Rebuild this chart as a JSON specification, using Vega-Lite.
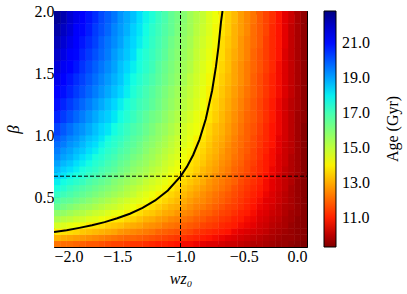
{
"$schema": "https://vega.github.io/schema/vega-lite/v6.json",
"width": 253, "height": 236,
"autosize": {"type": "none"},
"padding": {"left": 54, "top": 11, "right": 100, "bottom": 47},
"background": "white",
"config": {
 "view": {"stroke": null},
 "font": "Liberation Serif",
 "axis": {"zindex": 1, "grid": false, "domainColor": "black", "tickColor": "black", "labelColor": "black", "titleColor": "black", "labelFont": "Liberation Serif", "titleFont": "Liberation Serif", "labelFontSize": 16, "titleFontSize": 16, "titleFontWeight": "normal", "domainWidth": 1, "tickWidth": 1}
},
"datasets": {
 "fine": [
{"b":0.125,"w":-0.025,"t":9.3},{"b":0.125,"w":-0.075,"t":9.4},{"b":0.125,"w":-0.125,"t":9.5},{"b":0.125,"w":-0.175,"t":9.6},{"b":0.125,"w":-0.225,"t":9.6},{"b":0.125,"w":-0.275,"t":9.7},{"b":0.125,"w":-0.325,"t":9.8},{"b":0.125,"w":-0.375,"t":9.9},{"b":0.125,"w":-0.425,"t":9.9},{"b":0.125,"w":-0.475,"t":10.0},{"b":0.125,"w":-0.525,"t":10.1},{"b":0.125,"w":-0.575,"t":10.2},{"b":0.125,"w":-0.625,"t":10.2},{"b":0.125,"w":-0.675,"t":10.3},{"b":0.125,"w":-0.725,"t":10.4},{"b":0.125,"w":-0.775,"t":10.4},{"b":0.125,"w":-0.825,"t":10.5},{"b":0.125,"w":-0.875,"t":10.6},{"b":0.125,"w":-0.925,"t":10.7},{"b":0.125,"w":-0.975,"t":10.7},{"b":0.125,"w":-1.025,"t":10.8},{"b":0.125,"w":-1.075,"t":10.9},{"b":0.125,"w":-1.125,"t":11.0},{"b":0.125,"w":-1.175,"t":11.0},{"b":0.125,"w":-1.225,"t":11.1},{"b":0.125,"w":-1.275,"t":11.2},{"b":0.125,"w":-1.325,"t":11.3},{"b":0.125,"w":-1.375,"t":11.3},{"b":0.125,"w":-1.425,"t":11.4},{"b":0.125,"w":-1.475,"t":11.5},{"b":0.125,"w":-1.525,"t":11.5},{"b":0.125,"w":-1.575,"t":11.6},{"b":0.125,"w":-1.625,"t":11.7},{"b":0.125,"w":-1.675,"t":11.8},{"b":0.125,"w":-1.725,"t":11.8},{"b":0.125,"w":-1.775,"t":11.9},{"b":0.125,"w":-1.825,"t":12.0},{"b":0.125,"w":-1.875,"t":12.1},{"b":0.125,"w":-1.925,"t":12.1},{"b":0.125,"w":-1.975,"t":12.2},
{"b":0.175,"w":-0.025,"t":9.4},{"b":0.175,"w":-0.075,"t":9.5},{"b":0.175,"w":-0.125,"t":9.6},{"b":0.175,"w":-0.175,"t":9.6},{"b":0.175,"w":-0.225,"t":9.7},{"b":0.175,"w":-0.275,"t":9.8},{"b":0.175,"w":-0.325,"t":9.9},{"b":0.175,"w":-0.375,"t":10.0},{"b":0.175,"w":-0.425,"t":10.1},{"b":0.175,"w":-0.475,"t":10.2},{"b":0.175,"w":-0.525,"t":10.3},{"b":0.175,"w":-0.575,"t":10.4},{"b":0.175,"w":-0.625,"t":10.5},{"b":0.175,"w":-0.675,"t":10.6},{"b":0.175,"w":-0.725,"t":10.7},{"b":0.175,"w":-0.775,"t":10.8},{"b":0.175,"w":-0.825,"t":10.9},{"b":0.175,"w":-0.875,"t":11.0},{"b":0.175,"w":-0.925,"t":11.1},{"b":0.175,"w":-0.975,"t":11.2},{"b":0.175,"w":-1.025,"t":11.3},{"b":0.175,"w":-1.075,"t":11.4},{"b":0.175,"w":-1.125,"t":11.5},{"b":0.175,"w":-1.175,"t":11.6},{"b":0.175,"w":-1.225,"t":11.7},{"b":0.175,"w":-1.275,"t":11.8},{"b":0.175,"w":-1.325,"t":11.9},{"b":0.175,"w":-1.375,"t":12.0},{"b":0.175,"w":-1.425,"t":12.0},{"b":0.175,"w":-1.475,"t":12.1},{"b":0.175,"w":-1.525,"t":12.2},{"b":0.175,"w":-1.575,"t":12.3},{"b":0.175,"w":-1.625,"t":12.4},{"b":0.175,"w":-1.675,"t":12.5},{"b":0.175,"w":-1.725,"t":12.6},{"b":0.175,"w":-1.775,"t":12.7},{"b":0.175,"w":-1.825,"t":12.8},{"b":0.175,"w":-1.875,"t":12.9},{"b":0.175,"w":-1.925,"t":13.0},{"b":0.175,"w":-1.975,"t":13.1},
{"b":0.225,"w":-0.025,"t":9.4},{"b":0.225,"w":-0.075,"t":9.5},{"b":0.225,"w":-0.125,"t":9.6},{"b":0.225,"w":-0.175,"t":9.7},{"b":0.225,"w":-0.225,"t":9.8},{"b":0.225,"w":-0.275,"t":9.9},{"b":0.225,"w":-0.325,"t":10.1},{"b":0.225,"w":-0.375,"t":10.2},{"b":0.225,"w":-0.425,"t":10.3},{"b":0.225,"w":-0.475,"t":10.4},{"b":0.225,"w":-0.525,"t":10.5},{"b":0.225,"w":-0.575,"t":10.6},{"b":0.225,"w":-0.625,"t":10.8},{"b":0.225,"w":-0.675,"t":10.9},{"b":0.225,"w":-0.725,"t":11.0},{"b":0.225,"w":-0.775,"t":11.1},{"b":0.225,"w":-0.825,"t":11.2},{"b":0.225,"w":-0.875,"t":11.3},{"b":0.225,"w":-0.925,"t":11.5},{"b":0.225,"w":-0.975,"t":11.6},{"b":0.225,"w":-1.025,"t":11.7},{"b":0.225,"w":-1.075,"t":11.8},{"b":0.225,"w":-1.125,"t":11.9},{"b":0.225,"w":-1.175,"t":12.0},{"b":0.225,"w":-1.225,"t":12.2},{"b":0.225,"w":-1.275,"t":12.3},{"b":0.225,"w":-1.325,"t":12.4},{"b":0.225,"w":-1.375,"t":12.5},{"b":0.225,"w":-1.425,"t":12.6},{"b":0.225,"w":-1.475,"t":12.7},{"b":0.225,"w":-1.525,"t":12.9},{"b":0.225,"w":-1.575,"t":13.0},{"b":0.225,"w":-1.625,"t":13.1},{"b":0.225,"w":-1.675,"t":13.2},{"b":0.225,"w":-1.725,"t":13.3},{"b":0.225,"w":-1.775,"t":13.4},{"b":0.225,"w":-1.825,"t":13.6},{"b":0.225,"w":-1.875,"t":13.7},{"b":0.225,"w":-1.925,"t":13.8},{"b":0.225,"w":-1.975,"t":13.9},
{"b":0.275,"w":-0.025,"t":9.4},{"b":0.275,"w":-0.075,"t":9.5},{"b":0.275,"w":-0.125,"t":9.6},{"b":0.275,"w":-0.175,"t":9.8},{"b":0.275,"w":-0.225,"t":9.9},{"b":0.275,"w":-0.275,"t":10.0},{"b":0.275,"w":-0.325,"t":10.2},{"b":0.275,"w":-0.375,"t":10.3},{"b":0.275,"w":-0.425,"t":10.5},{"b":0.275,"w":-0.475,"t":10.6},{"b":0.275,"w":-0.525,"t":10.7},{"b":0.275,"w":-0.575,"t":10.9},{"b":0.275,"w":-0.625,"t":11.0},{"b":0.275,"w":-0.675,"t":11.1},{"b":0.275,"w":-0.725,"t":11.3},{"b":0.275,"w":-0.775,"t":11.4},{"b":0.275,"w":-0.825,"t":11.5},{"b":0.275,"w":-0.875,"t":11.7},{"b":0.275,"w":-0.925,"t":11.8},{"b":0.275,"w":-0.975,"t":11.9},{"b":0.275,"w":-1.025,"t":12.1},{"b":0.275,"w":-1.075,"t":12.2},{"b":0.275,"w":-1.125,"t":12.3},{"b":0.275,"w":-1.175,"t":12.5},{"b":0.275,"w":-1.225,"t":12.6},{"b":0.275,"w":-1.275,"t":12.7},{"b":0.275,"w":-1.325,"t":12.9},{"b":0.275,"w":-1.375,"t":13.0},{"b":0.275,"w":-1.425,"t":13.1},{"b":0.275,"w":-1.475,"t":13.3},{"b":0.275,"w":-1.525,"t":13.4},{"b":0.275,"w":-1.575,"t":13.5},{"b":0.275,"w":-1.625,"t":13.7},{"b":0.275,"w":-1.675,"t":13.8},{"b":0.275,"w":-1.725,"t":13.9},{"b":0.275,"w":-1.775,"t":14.1},{"b":0.275,"w":-1.825,"t":14.2},{"b":0.275,"w":-1.875,"t":14.3},{"b":0.275,"w":-1.925,"t":14.5},{"b":0.275,"w":-1.975,"t":14.6},
{"b":0.325,"w":-0.025,"t":9.4},{"b":0.325,"w":-0.075,"t":9.5},{"b":0.325,"w":-0.125,"t":9.7},{"b":0.325,"w":-0.175,"t":9.8},{"b":0.325,"w":-0.225,"t":10.0},{"b":0.325,"w":-0.275,"t":10.1},{"b":0.325,"w":-0.325,"t":10.3},{"b":0.325,"w":-0.375,"t":10.4},{"b":0.325,"w":-0.425,"t":10.6},{"b":0.325,"w":-0.475,"t":10.7},{"b":0.325,"w":-0.525,"t":10.9},{"b":0.325,"w":-0.575,"t":11.0},{"b":0.325,"w":-0.625,"t":11.2},{"b":0.325,"w":-0.675,"t":11.3},{"b":0.325,"w":-0.725,"t":11.5},{"b":0.325,"w":-0.775,"t":11.6},{"b":0.325,"w":-0.825,"t":11.8},{"b":0.325,"w":-0.875,"t":11.9},{"b":0.325,"w":-0.925,"t":12.1},{"b":0.325,"w":-0.975,"t":12.2},{"b":0.325,"w":-1.025,"t":12.4},{"b":0.325,"w":-1.075,"t":12.5},{"b":0.325,"w":-1.125,"t":12.7},{"b":0.325,"w":-1.175,"t":12.8},{"b":0.325,"w":-1.225,"t":13.0},{"b":0.325,"w":-1.275,"t":13.1},{"b":0.325,"w":-1.325,"t":13.3},{"b":0.325,"w":-1.375,"t":13.5},{"b":0.325,"w":-1.425,"t":13.6},{"b":0.325,"w":-1.475,"t":13.8},{"b":0.325,"w":-1.525,"t":13.9},{"b":0.325,"w":-1.575,"t":14.1},{"b":0.325,"w":-1.625,"t":14.2},{"b":0.325,"w":-1.675,"t":14.4},{"b":0.325,"w":-1.725,"t":14.5},{"b":0.325,"w":-1.775,"t":14.7},{"b":0.325,"w":-1.825,"t":14.8},{"b":0.325,"w":-1.875,"t":15.0},{"b":0.325,"w":-1.925,"t":15.1},{"b":0.325,"w":-1.975,"t":15.3},
{"b":0.375,"w":-0.025,"t":9.4},{"b":0.375,"w":-0.075,"t":9.6},{"b":0.375,"w":-0.125,"t":9.7},{"b":0.375,"w":-0.175,"t":9.9},{"b":0.375,"w":-0.225,"t":10.1},{"b":0.375,"w":-0.275,"t":10.2},{"b":0.375,"w":-0.325,"t":10.4},{"b":0.375,"w":-0.375,"t":10.5},{"b":0.375,"w":-0.425,"t":10.7},{"b":0.375,"w":-0.475,"t":10.9},{"b":0.375,"w":-0.525,"t":11.0},{"b":0.375,"w":-0.575,"t":11.2},{"b":0.375,"w":-0.625,"t":11.4},{"b":0.375,"w":-0.675,"t":11.5},{"b":0.375,"w":-0.725,"t":11.7},{"b":0.375,"w":-0.775,"t":11.9},{"b":0.375,"w":-0.825,"t":12.0},{"b":0.375,"w":-0.875,"t":12.2},{"b":0.375,"w":-0.925,"t":12.4},{"b":0.375,"w":-0.975,"t":12.5},{"b":0.375,"w":-1.025,"t":12.7},{"b":0.375,"w":-1.075,"t":12.9},{"b":0.375,"w":-1.125,"t":13.0},{"b":0.375,"w":-1.175,"t":13.2},{"b":0.375,"w":-1.225,"t":13.4},{"b":0.375,"w":-1.275,"t":13.5},{"b":0.375,"w":-1.325,"t":13.7},{"b":0.375,"w":-1.375,"t":13.9},{"b":0.375,"w":-1.425,"t":14.0},{"b":0.375,"w":-1.475,"t":14.2},{"b":0.375,"w":-1.525,"t":14.3},{"b":0.375,"w":-1.575,"t":14.5},{"b":0.375,"w":-1.625,"t":14.7},{"b":0.375,"w":-1.675,"t":14.8},{"b":0.375,"w":-1.725,"t":15.0},{"b":0.375,"w":-1.775,"t":15.2},{"b":0.375,"w":-1.825,"t":15.3},{"b":0.375,"w":-1.875,"t":15.5},{"b":0.375,"w":-1.925,"t":15.7},{"b":0.375,"w":-1.975,"t":15.8},
{"b":0.425,"w":-0.025,"t":9.4},{"b":0.425,"w":-0.075,"t":9.6},{"b":0.425,"w":-0.125,"t":9.8},{"b":0.425,"w":-0.175,"t":9.9},{"b":0.425,"w":-0.225,"t":10.1},{"b":0.425,"w":-0.275,"t":10.3},{"b":0.425,"w":-0.325,"t":10.5},{"b":0.425,"w":-0.375,"t":10.6},{"b":0.425,"w":-0.425,"t":10.8},{"b":0.425,"w":-0.475,"t":11.0},{"b":0.425,"w":-0.525,"t":11.2},{"b":0.425,"w":-0.575,"t":11.4},{"b":0.425,"w":-0.625,"t":11.5},{"b":0.425,"w":-0.675,"t":11.7},{"b":0.425,"w":-0.725,"t":11.9},{"b":0.425,"w":-0.775,"t":12.1},{"b":0.425,"w":-0.825,"t":12.3},{"b":0.425,"w":-0.875,"t":12.4},{"b":0.425,"w":-0.925,"t":12.6},{"b":0.425,"w":-0.975,"t":12.8},{"b":0.425,"w":-1.025,"t":13.0},{"b":0.425,"w":-1.075,"t":13.1},{"b":0.425,"w":-1.125,"t":13.3},{"b":0.425,"w":-1.175,"t":13.5},{"b":0.425,"w":-1.225,"t":13.7},{"b":0.425,"w":-1.275,"t":13.9},{"b":0.425,"w":-1.325,"t":14.0},{"b":0.425,"w":-1.375,"t":14.2},{"b":0.425,"w":-1.425,"t":14.4},{"b":0.425,"w":-1.475,"t":14.6},{"b":0.425,"w":-1.525,"t":14.8},{"b":0.425,"w":-1.575,"t":14.9},{"b":0.425,"w":-1.625,"t":15.1},{"b":0.425,"w":-1.675,"t":15.3},{"b":0.425,"w":-1.725,"t":15.5},{"b":0.425,"w":-1.775,"t":15.6},{"b":0.425,"w":-1.825,"t":15.8},{"b":0.425,"w":-1.875,"t":16.0},{"b":0.425,"w":-1.925,"t":16.2},{"b":0.425,"w":-1.975,"t":16.4},
{"b":0.475,"w":-0.025,"t":9.4},{"b":0.475,"w":-0.075,"t":9.6},{"b":0.475,"w":-0.125,"t":9.8},{"b":0.475,"w":-0.175,"t":10.0},{"b":0.475,"w":-0.225,"t":10.2},{"b":0.475,"w":-0.275,"t":10.4},{"b":0.475,"w":-0.325,"t":10.5},{"b":0.475,"w":-0.375,"t":10.7},{"b":0.475,"w":-0.425,"t":10.9},{"b":0.475,"w":-0.475,"t":11.1},{"b":0.475,"w":-0.525,"t":11.3},{"b":0.475,"w":-0.575,"t":11.5},{"b":0.475,"w":-0.625,"t":11.7},{"b":0.475,"w":-0.675,"t":11.9},{"b":0.475,"w":-0.725,"t":12.1},{"b":0.475,"w":-0.775,"t":12.3},{"b":0.475,"w":-0.825,"t":12.5},{"b":0.475,"w":-0.875,"t":12.6},{"b":0.475,"w":-0.925,"t":12.8},{"b":0.475,"w":-0.975,"t":13.0},{"b":0.475,"w":-1.025,"t":13.2},{"b":0.475,"w":-1.075,"t":13.4},{"b":0.475,"w":-1.125,"t":13.6},{"b":0.475,"w":-1.175,"t":13.8},{"b":0.475,"w":-1.225,"t":14.0},{"b":0.475,"w":-1.275,"t":14.2},{"b":0.475,"w":-1.325,"t":14.4},{"b":0.475,"w":-1.375,"t":14.5},{"b":0.475,"w":-1.425,"t":14.7},{"b":0.475,"w":-1.475,"t":14.9},{"b":0.475,"w":-1.525,"t":15.1},{"b":0.475,"w":-1.575,"t":15.3},{"b":0.475,"w":-1.625,"t":15.5},{"b":0.475,"w":-1.675,"t":15.7},{"b":0.475,"w":-1.725,"t":15.9},{"b":0.475,"w":-1.775,"t":16.1},{"b":0.475,"w":-1.825,"t":16.3},{"b":0.475,"w":-1.875,"t":16.5},{"b":0.475,"w":-1.925,"t":16.6},{"b":0.475,"w":-1.975,"t":16.8},
{"b":0.525,"w":-0.025,"t":9.4},{"b":0.525,"w":-0.075,"t":9.6},{"b":0.525,"w":-0.125,"t":9.8},{"b":0.525,"w":-0.175,"t":10.0},{"b":0.525,"w":-0.225,"t":10.2},{"b":0.525,"w":-0.275,"t":10.4},{"b":0.525,"w":-0.325,"t":10.6},{"b":0.525,"w":-0.375,"t":10.8},{"b":0.525,"w":-0.425,"t":11.0},{"b":0.525,"w":-0.475,"t":11.2},{"b":0.525,"w":-0.525,"t":11.4},{"b":0.525,"w":-0.575,"t":11.6},{"b":0.525,"w":-0.625,"t":11.8},{"b":0.525,"w":-0.675,"t":12.0},{"b":0.525,"w":-0.725,"t":12.2},{"b":0.525,"w":-0.775,"t":12.4},{"b":0.525,"w":-0.825,"t":12.6},{"b":0.525,"w":-0.875,"t":12.8},{"b":0.525,"w":-0.925,"t":13.0},{"b":0.525,"w":-0.975,"t":13.2},{"b":0.525,"w":-1.025,"t":13.4},{"b":0.525,"w":-1.075,"t":13.6},{"b":0.525,"w":-1.125,"t":13.8},{"b":0.525,"w":-1.175,"t":14.0},{"b":0.525,"w":-1.225,"t":14.2},{"b":0.525,"w":-1.275,"t":14.4},{"b":0.525,"w":-1.325,"t":14.6},{"b":0.525,"w":-1.375,"t":14.9},{"b":0.525,"w":-1.425,"t":15.1},{"b":0.525,"w":-1.475,"t":15.3},{"b":0.525,"w":-1.525,"t":15.5},{"b":0.525,"w":-1.575,"t":15.7},{"b":0.525,"w":-1.625,"t":15.9},{"b":0.525,"w":-1.675,"t":16.1},{"b":0.525,"w":-1.725,"t":16.3},{"b":0.525,"w":-1.775,"t":16.5},{"b":0.525,"w":-1.825,"t":16.7},{"b":0.525,"w":-1.875,"t":16.9},{"b":0.525,"w":-1.925,"t":17.1},{"b":0.525,"w":-1.975,"t":17.3},
{"b":0.575,"w":-0.025,"t":9.4},{"b":0.575,"w":-0.075,"t":9.6},{"b":0.575,"w":-0.125,"t":9.8},{"b":0.575,"w":-0.175,"t":10.1},{"b":0.575,"w":-0.225,"t":10.3},{"b":0.575,"w":-0.275,"t":10.5},{"b":0.575,"w":-0.325,"t":10.7},{"b":0.575,"w":-0.375,"t":10.9},{"b":0.575,"w":-0.425,"t":11.1},{"b":0.575,"w":-0.475,"t":11.3},{"b":0.575,"w":-0.525,"t":11.5},{"b":0.575,"w":-0.575,"t":11.7},{"b":0.575,"w":-0.625,"t":12.0},{"b":0.575,"w":-0.675,"t":12.2},{"b":0.575,"w":-0.725,"t":12.4},{"b":0.575,"w":-0.775,"t":12.6},{"b":0.575,"w":-0.825,"t":12.8},{"b":0.575,"w":-0.875,"t":13.0},{"b":0.575,"w":-0.925,"t":13.2},{"b":0.575,"w":-0.975,"t":13.4},{"b":0.575,"w":-1.025,"t":13.6},{"b":0.575,"w":-1.075,"t":13.9},{"b":0.575,"w":-1.125,"t":14.1},{"b":0.575,"w":-1.175,"t":14.3},{"b":0.575,"w":-1.225,"t":14.5},{"b":0.575,"w":-1.275,"t":14.7},{"b":0.575,"w":-1.325,"t":14.9},{"b":0.575,"w":-1.375,"t":15.1},{"b":0.575,"w":-1.425,"t":15.3},{"b":0.575,"w":-1.475,"t":15.6},{"b":0.575,"w":-1.525,"t":15.8},{"b":0.575,"w":-1.575,"t":16.0},{"b":0.575,"w":-1.625,"t":16.2},{"b":0.575,"w":-1.675,"t":16.4},{"b":0.575,"w":-1.725,"t":16.6},{"b":0.575,"w":-1.775,"t":16.8},{"b":0.575,"w":-1.825,"t":17.0},{"b":0.575,"w":-1.875,"t":17.2},{"b":0.575,"w":-1.925,"t":17.5},{"b":0.575,"w":-1.975,"t":17.7},
{"b":0.625,"w":-0.025,"t":9.4},{"b":0.625,"w":-0.075,"t":9.6},{"b":0.625,"w":-0.125,"t":9.9},{"b":0.625,"w":-0.175,"t":10.1},{"b":0.625,"w":-0.225,"t":10.3},{"b":0.625,"w":-0.275,"t":10.5},{"b":0.625,"w":-0.325,"t":10.7},{"b":0.625,"w":-0.375,"t":11.0},{"b":0.625,"w":-0.425,"t":11.2},{"b":0.625,"w":-0.475,"t":11.4},{"b":0.625,"w":-0.525,"t":11.6},{"b":0.625,"w":-0.575,"t":11.9},{"b":0.625,"w":-0.625,"t":12.1},{"b":0.625,"w":-0.675,"t":12.3},{"b":0.625,"w":-0.725,"t":12.5},{"b":0.625,"w":-0.775,"t":12.7},{"b":0.625,"w":-0.825,"t":13.0},{"b":0.625,"w":-0.875,"t":13.2},{"b":0.625,"w":-0.925,"t":13.4},{"b":0.625,"w":-0.975,"t":13.6},{"b":0.625,"w":-1.025,"t":13.8},{"b":0.625,"w":-1.075,"t":14.1},{"b":0.625,"w":-1.125,"t":14.3},{"b":0.625,"w":-1.175,"t":14.5},{"b":0.625,"w":-1.225,"t":14.7},{"b":0.625,"w":-1.275,"t":14.9},{"b":0.625,"w":-1.325,"t":15.2},{"b":0.625,"w":-1.375,"t":15.4},{"b":0.625,"w":-1.425,"t":15.6},{"b":0.625,"w":-1.475,"t":15.8},{"b":0.625,"w":-1.525,"t":16.0},{"b":0.625,"w":-1.575,"t":16.3},{"b":0.625,"w":-1.625,"t":16.5},{"b":0.625,"w":-1.675,"t":16.7},{"b":0.625,"w":-1.725,"t":16.9},{"b":0.625,"w":-1.775,"t":17.2},{"b":0.625,"w":-1.825,"t":17.4},{"b":0.625,"w":-1.875,"t":17.6},{"b":0.625,"w":-1.925,"t":17.8},{"b":0.625,"w":-1.975,"t":18.0},
{"b":0.675,"w":-0.025,"t":9.4},{"b":0.675,"w":-0.075,"t":9.7},{"b":0.675,"w":-0.125,"t":9.9},{"b":0.675,"w":-0.175,"t":10.1},{"b":0.675,"w":-0.225,"t":10.3},{"b":0.675,"w":-0.275,"t":10.6},{"b":0.675,"w":-0.325,"t":10.8},{"b":0.675,"w":-0.375,"t":11.0},{"b":0.675,"w":-0.425,"t":11.3},{"b":0.675,"w":-0.475,"t":11.5},{"b":0.675,"w":-0.525,"t":11.7},{"b":0.675,"w":-0.575,"t":11.9},{"b":0.675,"w":-0.625,"t":12.2},{"b":0.675,"w":-0.675,"t":12.4},{"b":0.675,"w":-0.725,"t":12.6},{"b":0.675,"w":-0.775,"t":12.9},{"b":0.675,"w":-0.825,"t":13.1},{"b":0.675,"w":-0.875,"t":13.3},{"b":0.675,"w":-0.925,"t":13.6},{"b":0.675,"w":-0.975,"t":13.8},{"b":0.675,"w":-1.025,"t":14.0},{"b":0.675,"w":-1.075,"t":14.2},{"b":0.675,"w":-1.125,"t":14.5},{"b":0.675,"w":-1.175,"t":14.7},{"b":0.675,"w":-1.225,"t":14.9},{"b":0.675,"w":-1.275,"t":15.2},{"b":0.675,"w":-1.325,"t":15.4},{"b":0.675,"w":-1.375,"t":15.6},{"b":0.675,"w":-1.425,"t":15.8},{"b":0.675,"w":-1.475,"t":16.1},{"b":0.675,"w":-1.525,"t":16.3},{"b":0.675,"w":-1.575,"t":16.5},{"b":0.675,"w":-1.625,"t":16.8},{"b":0.675,"w":-1.675,"t":17.0},{"b":0.675,"w":-1.725,"t":17.2},{"b":0.675,"w":-1.775,"t":17.5},{"b":0.675,"w":-1.825,"t":17.7},{"b":0.675,"w":-1.875,"t":17.9},{"b":0.675,"w":-1.925,"t":18.1},{"b":0.675,"w":-1.975,"t":18.4},
{"b":0.725,"w":-0.025,"t":9.4},{"b":0.725,"w":-0.075,"t":9.7},{"b":0.725,"w":-0.125,"t":9.9},{"b":0.725,"w":-0.175,"t":10.1},{"b":0.725,"w":-0.225,"t":10.4},{"b":0.725,"w":-0.275,"t":10.6},{"b":0.725,"w":-0.325,"t":10.9},{"b":0.725,"w":-0.375,"t":11.1},{"b":0.725,"w":-0.425,"t":11.3},{"b":0.725,"w":-0.475,"t":11.6},{"b":0.725,"w":-0.525,"t":11.8},{"b":0.725,"w":-0.575,"t":12.0},{"b":0.725,"w":-0.625,"t":12.3},{"b":0.725,"w":-0.675,"t":12.5},{"b":0.725,"w":-0.725,"t":12.8},{"b":0.725,"w":-0.775,"t":13.0},{"b":0.725,"w":-0.825,"t":13.2},{"b":0.725,"w":-0.875,"t":13.5},{"b":0.725,"w":-0.925,"t":13.7},{"b":0.725,"w":-0.975,"t":13.9},{"b":0.725,"w":-1.025,"t":14.2},{"b":0.725,"w":-1.075,"t":14.4},{"b":0.725,"w":-1.125,"t":14.7},{"b":0.725,"w":-1.175,"t":14.9},{"b":0.725,"w":-1.225,"t":15.1},{"b":0.725,"w":-1.275,"t":15.4},{"b":0.725,"w":-1.325,"t":15.6},{"b":0.725,"w":-1.375,"t":15.8},{"b":0.725,"w":-1.425,"t":16.1},{"b":0.725,"w":-1.475,"t":16.3},{"b":0.725,"w":-1.525,"t":16.6},{"b":0.725,"w":-1.575,"t":16.8},{"b":0.725,"w":-1.625,"t":17.0},{"b":0.725,"w":-1.675,"t":17.3},{"b":0.725,"w":-1.725,"t":17.5},{"b":0.725,"w":-1.775,"t":17.7},{"b":0.725,"w":-1.825,"t":18.0},{"b":0.725,"w":-1.875,"t":18.2},{"b":0.725,"w":-1.925,"t":18.4},{"b":0.725,"w":-1.975,"t":18.7},
{"b":0.775,"w":-0.025,"t":9.4},{"b":0.775,"w":-0.075,"t":9.7},{"b":0.775,"w":-0.125,"t":9.9},{"b":0.775,"w":-0.175,"t":10.2},{"b":0.775,"w":-0.225,"t":10.4},{"b":0.775,"w":-0.275,"t":10.7},{"b":0.775,"w":-0.325,"t":10.9},{"b":0.775,"w":-0.375,"t":11.1},{"b":0.775,"w":-0.425,"t":11.4},{"b":0.775,"w":-0.475,"t":11.6},{"b":0.775,"w":-0.525,"t":11.9},{"b":0.775,"w":-0.575,"t":12.1},{"b":0.775,"w":-0.625,"t":12.4},{"b":0.775,"w":-0.675,"t":12.6},{"b":0.775,"w":-0.725,"t":12.9},{"b":0.775,"w":-0.775,"t":13.1},{"b":0.775,"w":-0.825,"t":13.4},{"b":0.775,"w":-0.875,"t":13.6},{"b":0.775,"w":-0.925,"t":13.8},{"b":0.775,"w":-0.975,"t":14.1},{"b":0.775,"w":-1.025,"t":14.3},{"b":0.775,"w":-1.075,"t":14.6},{"b":0.775,"w":-1.125,"t":14.8},{"b":0.775,"w":-1.175,"t":15.1},{"b":0.775,"w":-1.225,"t":15.3},{"b":0.775,"w":-1.275,"t":15.6},{"b":0.775,"w":-1.325,"t":15.8},{"b":0.775,"w":-1.375,"t":16.0},{"b":0.775,"w":-1.425,"t":16.3},{"b":0.775,"w":-1.475,"t":16.5},{"b":0.775,"w":-1.525,"t":16.8},{"b":0.775,"w":-1.575,"t":17.0},{"b":0.775,"w":-1.625,"t":17.3},{"b":0.775,"w":-1.675,"t":17.5},{"b":0.775,"w":-1.725,"t":17.8},{"b":0.775,"w":-1.775,"t":18.0},{"b":0.775,"w":-1.825,"t":18.2},{"b":0.775,"w":-1.875,"t":18.5},{"b":0.775,"w":-1.925,"t":18.7},{"b":0.775,"w":-1.975,"t":19.0},
{"b":0.825,"w":-0.025,"t":9.4},{"b":0.825,"w":-0.075,"t":9.7},{"b":0.825,"w":-0.125,"t":9.9},{"b":0.825,"w":-0.175,"t":10.2},{"b":0.825,"w":-0.225,"t":10.4},{"b":0.825,"w":-0.275,"t":10.7},{"b":0.825,"w":-0.325,"t":10.9},{"b":0.825,"w":-0.375,"t":11.2},{"b":0.825,"w":-0.425,"t":11.5},{"b":0.825,"w":-0.475,"t":11.7},{"b":0.825,"w":-0.525,"t":12.0},{"b":0.825,"w":-0.575,"t":12.2},{"b":0.825,"w":-0.625,"t":12.5},{"b":0.825,"w":-0.675,"t":12.7},{"b":0.825,"w":-0.725,"t":13.0},{"b":0.825,"w":-0.775,"t":13.2},{"b":0.825,"w":-0.825,"t":13.5},{"b":0.825,"w":-0.875,"t":13.7},{"b":0.825,"w":-0.925,"t":14.0},{"b":0.825,"w":-0.975,"t":14.2},{"b":0.825,"w":-1.025,"t":14.5},{"b":0.825,"w":-1.075,"t":14.7},{"b":0.825,"w":-1.125,"t":15.0},{"b":0.825,"w":-1.175,"t":15.2},{"b":0.825,"w":-1.225,"t":15.5},{"b":0.825,"w":-1.275,"t":15.7},{"b":0.825,"w":-1.325,"t":16.0},{"b":0.825,"w":-1.375,"t":16.2},{"b":0.825,"w":-1.425,"t":16.5},{"b":0.825,"w":-1.475,"t":16.7},{"b":0.825,"w":-1.525,"t":17.0},{"b":0.825,"w":-1.575,"t":17.2},{"b":0.825,"w":-1.625,"t":17.5},{"b":0.825,"w":-1.675,"t":17.7},{"b":0.825,"w":-1.725,"t":18.0},{"b":0.825,"w":-1.775,"t":18.2},{"b":0.825,"w":-1.825,"t":18.5},{"b":0.825,"w":-1.875,"t":18.8},{"b":0.825,"w":-1.925,"t":19.0},{"b":0.825,"w":-1.975,"t":19.3},
{"b":0.875,"w":-0.025,"t":9.4},{"b":0.875,"w":-0.075,"t":9.7},{"b":0.875,"w":-0.125,"t":10.0},{"b":0.875,"w":-0.175,"t":10.2},{"b":0.875,"w":-0.225,"t":10.5},{"b":0.875,"w":-0.275,"t":10.7},{"b":0.875,"w":-0.325,"t":11.0},{"b":0.875,"w":-0.375,"t":11.2},{"b":0.875,"w":-0.425,"t":11.5},{"b":0.875,"w":-0.475,"t":11.8},{"b":0.875,"w":-0.525,"t":12.0},{"b":0.875,"w":-0.575,"t":12.3},{"b":0.875,"w":-0.625,"t":12.5},{"b":0.875,"w":-0.675,"t":12.8},{"b":0.875,"w":-0.725,"t":13.1},{"b":0.875,"w":-0.775,"t":13.3},{"b":0.875,"w":-0.825,"t":13.6},{"b":0.875,"w":-0.875,"t":13.8},{"b":0.875,"w":-0.925,"t":14.1},{"b":0.875,"w":-0.975,"t":14.3},{"b":0.875,"w":-1.025,"t":14.6},{"b":0.875,"w":-1.075,"t":14.9},{"b":0.875,"w":-1.125,"t":15.1},{"b":0.875,"w":-1.175,"t":15.4},{"b":0.875,"w":-1.225,"t":15.6},{"b":0.875,"w":-1.275,"t":15.9},{"b":0.875,"w":-1.325,"t":16.2},{"b":0.875,"w":-1.375,"t":16.4},{"b":0.875,"w":-1.425,"t":16.7},{"b":0.875,"w":-1.475,"t":16.9},{"b":0.875,"w":-1.525,"t":17.2},{"b":0.875,"w":-1.575,"t":17.4},{"b":0.875,"w":-1.625,"t":17.7},{"b":0.875,"w":-1.675,"t":18.0},{"b":0.875,"w":-1.725,"t":18.2},{"b":0.875,"w":-1.775,"t":18.5},{"b":0.875,"w":-1.825,"t":18.7},{"b":0.875,"w":-1.875,"t":19.0},{"b":0.875,"w":-1.925,"t":19.2},{"b":0.875,"w":-1.975,"t":19.5},
{"b":0.925,"w":-0.025,"t":9.4},{"b":0.925,"w":-0.075,"t":9.7},{"b":0.925,"w":-0.125,"t":10.0},{"b":0.925,"w":-0.175,"t":10.2},{"b":0.925,"w":-0.225,"t":10.5},{"b":0.925,"w":-0.275,"t":10.8},{"b":0.925,"w":-0.325,"t":11.0},{"b":0.925,"w":-0.375,"t":11.3},{"b":0.925,"w":-0.425,"t":11.6},{"b":0.925,"w":-0.475,"t":11.8},{"b":0.925,"w":-0.525,"t":12.1},{"b":0.925,"w":-0.575,"t":12.3},{"b":0.925,"w":-0.625,"t":12.6},{"b":0.925,"w":-0.675,"t":12.9},{"b":0.925,"w":-0.725,"t":13.1},{"b":0.925,"w":-0.775,"t":13.4},{"b":0.925,"w":-0.825,"t":13.7},{"b":0.925,"w":-0.875,"t":13.9},{"b":0.925,"w":-0.925,"t":14.2},{"b":0.925,"w":-0.975,"t":14.5},{"b":0.925,"w":-1.025,"t":14.7},{"b":0.925,"w":-1.075,"t":15.0},{"b":0.925,"w":-1.125,"t":15.3},{"b":0.925,"w":-1.175,"t":15.5},{"b":0.925,"w":-1.225,"t":15.8},{"b":0.925,"w":-1.275,"t":16.0},{"b":0.925,"w":-1.325,"t":16.3},{"b":0.925,"w":-1.375,"t":16.6},{"b":0.925,"w":-1.425,"t":16.8},{"b":0.925,"w":-1.475,"t":17.1},{"b":0.925,"w":-1.525,"t":17.4},{"b":0.925,"w":-1.575,"t":17.6},{"b":0.925,"w":-1.625,"t":17.9},{"b":0.925,"w":-1.675,"t":18.2},{"b":0.925,"w":-1.725,"t":18.4},{"b":0.925,"w":-1.775,"t":18.7},{"b":0.925,"w":-1.825,"t":19.0},{"b":0.925,"w":-1.875,"t":19.2},{"b":0.925,"w":-1.925,"t":19.5},{"b":0.925,"w":-1.975,"t":19.7},
{"b":0.975,"w":-0.025,"t":9.4},{"b":0.975,"w":-0.075,"t":9.7},{"b":0.975,"w":-0.125,"t":10.0},{"b":0.975,"w":-0.175,"t":10.3},{"b":0.975,"w":-0.225,"t":10.5},{"b":0.975,"w":-0.275,"t":10.8},{"b":0.975,"w":-0.325,"t":11.1},{"b":0.975,"w":-0.375,"t":11.3},{"b":0.975,"w":-0.425,"t":11.6},{"b":0.975,"w":-0.475,"t":11.9},{"b":0.975,"w":-0.525,"t":12.1},{"b":0.975,"w":-0.575,"t":12.4},{"b":0.975,"w":-0.625,"t":12.7},{"b":0.975,"w":-0.675,"t":13.0},{"b":0.975,"w":-0.725,"t":13.2},{"b":0.975,"w":-0.775,"t":13.5},{"b":0.975,"w":-0.825,"t":13.8},{"b":0.975,"w":-0.875,"t":14.0},{"b":0.975,"w":-0.925,"t":14.3},{"b":0.975,"w":-0.975,"t":14.6},{"b":0.975,"w":-1.025,"t":14.8},{"b":0.975,"w":-1.075,"t":15.1},{"b":0.975,"w":-1.125,"t":15.4},{"b":0.975,"w":-1.175,"t":15.7},{"b":0.975,"w":-1.225,"t":15.9},{"b":0.975,"w":-1.275,"t":16.2},{"b":0.975,"w":-1.325,"t":16.5},{"b":0.975,"w":-1.375,"t":16.7},{"b":0.975,"w":-1.425,"t":17.0},{"b":0.975,"w":-1.475,"t":17.3},{"b":0.975,"w":-1.525,"t":17.5},{"b":0.975,"w":-1.575,"t":17.8},{"b":0.975,"w":-1.625,"t":18.1},{"b":0.975,"w":-1.675,"t":18.4},{"b":0.975,"w":-1.725,"t":18.6},{"b":0.975,"w":-1.775,"t":18.9},{"b":0.975,"w":-1.825,"t":19.2},{"b":0.975,"w":-1.875,"t":19.4},{"b":0.975,"w":-1.925,"t":19.7},{"b":0.975,"w":-1.975,"t":20.0}
 ],
 "coarse": [
{"b":1.05,"w":-0.025,"t":9.4},{"b":1.05,"w":-0.075,"t":9.7},{"b":1.05,"w":-0.125,"t":10.0},{"b":1.05,"w":-0.175,"t":10.3},{"b":1.05,"w":-0.225,"t":10.6},{"b":1.05,"w":-0.275,"t":10.8},{"b":1.05,"w":-0.325,"t":11.1},{"b":1.05,"w":-0.375,"t":11.4},{"b":1.05,"w":-0.425,"t":11.7},{"b":1.05,"w":-0.475,"t":11.9},{"b":1.05,"w":-0.525,"t":12.2},{"b":1.05,"w":-0.575,"t":12.5},{"b":1.05,"w":-0.625,"t":12.8},{"b":1.05,"w":-0.675,"t":13.1},{"b":1.05,"w":-0.725,"t":13.3},{"b":1.05,"w":-0.775,"t":13.6},{"b":1.05,"w":-0.825,"t":13.9},{"b":1.05,"w":-0.875,"t":14.2},{"b":1.05,"w":-0.925,"t":14.4},{"b":1.05,"w":-0.975,"t":14.7},{"b":1.05,"w":-1.025,"t":15.0},{"b":1.05,"w":-1.075,"t":15.3},{"b":1.05,"w":-1.125,"t":15.6},{"b":1.05,"w":-1.175,"t":15.8},{"b":1.05,"w":-1.225,"t":16.1},{"b":1.05,"w":-1.275,"t":16.4},{"b":1.05,"w":-1.325,"t":16.7},{"b":1.05,"w":-1.375,"t":16.9},{"b":1.05,"w":-1.425,"t":17.2},{"b":1.05,"w":-1.475,"t":17.5},{"b":1.05,"w":-1.525,"t":17.8},{"b":1.05,"w":-1.575,"t":18.1},{"b":1.05,"w":-1.625,"t":18.3},{"b":1.05,"w":-1.675,"t":18.6},{"b":1.05,"w":-1.725,"t":18.9},{"b":1.05,"w":-1.775,"t":19.2},{"b":1.05,"w":-1.825,"t":19.4},{"b":1.05,"w":-1.875,"t":19.7},{"b":1.05,"w":-1.925,"t":20.0},{"b":1.05,"w":-1.975,"t":20.3},
{"b":1.15,"w":-0.025,"t":9.5},{"b":1.15,"w":-0.075,"t":9.7},{"b":1.15,"w":-0.125,"t":10.0},{"b":1.15,"w":-0.175,"t":10.3},{"b":1.15,"w":-0.225,"t":10.6},{"b":1.15,"w":-0.275,"t":10.9},{"b":1.15,"w":-0.325,"t":11.2},{"b":1.15,"w":-0.375,"t":11.5},{"b":1.15,"w":-0.425,"t":11.8},{"b":1.15,"w":-0.475,"t":12.0},{"b":1.15,"w":-0.525,"t":12.3},{"b":1.15,"w":-0.575,"t":12.6},{"b":1.15,"w":-0.625,"t":12.9},{"b":1.15,"w":-0.675,"t":13.2},{"b":1.15,"w":-0.725,"t":13.5},{"b":1.15,"w":-0.775,"t":13.8},{"b":1.15,"w":-0.825,"t":14.0},{"b":1.15,"w":-0.875,"t":14.3},{"b":1.15,"w":-0.925,"t":14.6},{"b":1.15,"w":-0.975,"t":14.9},{"b":1.15,"w":-1.025,"t":15.2},{"b":1.15,"w":-1.075,"t":15.5},{"b":1.15,"w":-1.125,"t":15.8},{"b":1.15,"w":-1.175,"t":16.1},{"b":1.15,"w":-1.225,"t":16.3},{"b":1.15,"w":-1.275,"t":16.6},{"b":1.15,"w":-1.325,"t":16.9},{"b":1.15,"w":-1.375,"t":17.2},{"b":1.15,"w":-1.425,"t":17.5},{"b":1.15,"w":-1.475,"t":17.8},{"b":1.15,"w":-1.525,"t":18.1},{"b":1.15,"w":-1.575,"t":18.4},{"b":1.15,"w":-1.625,"t":18.6},{"b":1.15,"w":-1.675,"t":18.9},{"b":1.15,"w":-1.725,"t":19.2},{"b":1.15,"w":-1.775,"t":19.5},{"b":1.15,"w":-1.825,"t":19.8},{"b":1.15,"w":-1.875,"t":20.1},{"b":1.15,"w":-1.925,"t":20.4},{"b":1.15,"w":-1.975,"t":20.7},
{"b":1.25,"w":-0.025,"t":9.5},{"b":1.25,"w":-0.075,"t":9.8},{"b":1.25,"w":-0.125,"t":10.0},{"b":1.25,"w":-0.175,"t":10.3},{"b":1.25,"w":-0.225,"t":10.6},{"b":1.25,"w":-0.275,"t":10.9},{"b":1.25,"w":-0.325,"t":11.2},{"b":1.25,"w":-0.375,"t":11.5},{"b":1.25,"w":-0.425,"t":11.8},{"b":1.25,"w":-0.475,"t":12.1},{"b":1.25,"w":-0.525,"t":12.4},{"b":1.25,"w":-0.575,"t":12.7},{"b":1.25,"w":-0.625,"t":13.0},{"b":1.25,"w":-0.675,"t":13.3},{"b":1.25,"w":-0.725,"t":13.6},{"b":1.25,"w":-0.775,"t":13.9},{"b":1.25,"w":-0.825,"t":14.2},{"b":1.25,"w":-0.875,"t":14.5},{"b":1.25,"w":-0.925,"t":14.8},{"b":1.25,"w":-0.975,"t":15.1},{"b":1.25,"w":-1.025,"t":15.4},{"b":1.25,"w":-1.075,"t":15.7},{"b":1.25,"w":-1.125,"t":16.0},{"b":1.25,"w":-1.175,"t":16.3},{"b":1.25,"w":-1.225,"t":16.6},{"b":1.25,"w":-1.275,"t":16.9},{"b":1.25,"w":-1.325,"t":17.1},{"b":1.25,"w":-1.375,"t":17.4},{"b":1.25,"w":-1.425,"t":17.7},{"b":1.25,"w":-1.475,"t":18.0},{"b":1.25,"w":-1.525,"t":18.3},{"b":1.25,"w":-1.575,"t":18.6},{"b":1.25,"w":-1.625,"t":18.9},{"b":1.25,"w":-1.675,"t":19.2},{"b":1.25,"w":-1.725,"t":19.5},{"b":1.25,"w":-1.775,"t":19.8},{"b":1.25,"w":-1.825,"t":20.1},{"b":1.25,"w":-1.875,"t":20.4},{"b":1.25,"w":-1.925,"t":20.7},{"b":1.25,"w":-1.975,"t":21.0},
{"b":1.35,"w":-0.025,"t":9.5},{"b":1.35,"w":-0.075,"t":9.8},{"b":1.35,"w":-0.125,"t":10.1},{"b":1.35,"w":-0.175,"t":10.4},{"b":1.35,"w":-0.225,"t":10.7},{"b":1.35,"w":-0.275,"t":11.0},{"b":1.35,"w":-0.325,"t":11.3},{"b":1.35,"w":-0.375,"t":11.6},{"b":1.35,"w":-0.425,"t":11.9},{"b":1.35,"w":-0.475,"t":12.2},{"b":1.35,"w":-0.525,"t":12.5},{"b":1.35,"w":-0.575,"t":12.8},{"b":1.35,"w":-0.625,"t":13.1},{"b":1.35,"w":-0.675,"t":13.4},{"b":1.35,"w":-0.725,"t":13.7},{"b":1.35,"w":-0.775,"t":14.0},{"b":1.35,"w":-0.825,"t":14.3},{"b":1.35,"w":-0.875,"t":14.6},{"b":1.35,"w":-0.925,"t":14.9},{"b":1.35,"w":-0.975,"t":15.2},{"b":1.35,"w":-1.025,"t":15.5},{"b":1.35,"w":-1.075,"t":15.8},{"b":1.35,"w":-1.125,"t":16.1},{"b":1.35,"w":-1.175,"t":16.4},{"b":1.35,"w":-1.225,"t":16.7},{"b":1.35,"w":-1.275,"t":17.0},{"b":1.35,"w":-1.325,"t":17.3},{"b":1.35,"w":-1.375,"t":17.6},{"b":1.35,"w":-1.425,"t":18.0},{"b":1.35,"w":-1.475,"t":18.3},{"b":1.35,"w":-1.525,"t":18.6},{"b":1.35,"w":-1.575,"t":18.9},{"b":1.35,"w":-1.625,"t":19.2},{"b":1.35,"w":-1.675,"t":19.5},{"b":1.35,"w":-1.725,"t":19.8},{"b":1.35,"w":-1.775,"t":20.1},{"b":1.35,"w":-1.825,"t":20.4},{"b":1.35,"w":-1.875,"t":20.7},{"b":1.35,"w":-1.925,"t":21.0},{"b":1.35,"w":-1.975,"t":21.3},
{"b":1.45,"w":-0.025,"t":9.5},{"b":1.45,"w":-0.075,"t":9.8},{"b":1.45,"w":-0.125,"t":10.1},{"b":1.45,"w":-0.175,"t":10.4},{"b":1.45,"w":-0.225,"t":10.7},{"b":1.45,"w":-0.275,"t":11.0},{"b":1.45,"w":-0.325,"t":11.3},{"b":1.45,"w":-0.375,"t":11.6},{"b":1.45,"w":-0.425,"t":11.9},{"b":1.45,"w":-0.475,"t":12.3},{"b":1.45,"w":-0.525,"t":12.6},{"b":1.45,"w":-0.575,"t":12.9},{"b":1.45,"w":-0.625,"t":13.2},{"b":1.45,"w":-0.675,"t":13.5},{"b":1.45,"w":-0.725,"t":13.8},{"b":1.45,"w":-0.775,"t":14.1},{"b":1.45,"w":-0.825,"t":14.4},{"b":1.45,"w":-0.875,"t":14.7},{"b":1.45,"w":-0.925,"t":15.0},{"b":1.45,"w":-0.975,"t":15.4},{"b":1.45,"w":-1.025,"t":15.7},{"b":1.45,"w":-1.075,"t":16.0},{"b":1.45,"w":-1.125,"t":16.3},{"b":1.45,"w":-1.175,"t":16.6},{"b":1.45,"w":-1.225,"t":16.9},{"b":1.45,"w":-1.275,"t":17.2},{"b":1.45,"w":-1.325,"t":17.5},{"b":1.45,"w":-1.375,"t":17.8},{"b":1.45,"w":-1.425,"t":18.1},{"b":1.45,"w":-1.475,"t":18.5},{"b":1.45,"w":-1.525,"t":18.8},{"b":1.45,"w":-1.575,"t":19.1},{"b":1.45,"w":-1.625,"t":19.4},{"b":1.45,"w":-1.675,"t":19.7},{"b":1.45,"w":-1.725,"t":20.0},{"b":1.45,"w":-1.775,"t":20.3},{"b":1.45,"w":-1.825,"t":20.6},{"b":1.45,"w":-1.875,"t":20.9},{"b":1.45,"w":-1.925,"t":21.3},{"b":1.45,"w":-1.975,"t":21.6},
{"b":1.55,"w":-0.025,"t":9.5},{"b":1.55,"w":-0.075,"t":9.8},{"b":1.55,"w":-0.125,"t":10.1},{"b":1.55,"w":-0.175,"t":10.4},{"b":1.55,"w":-0.225,"t":10.7},{"b":1.55,"w":-0.275,"t":11.1},{"b":1.55,"w":-0.325,"t":11.4},{"b":1.55,"w":-0.375,"t":11.7},{"b":1.55,"w":-0.425,"t":12.0},{"b":1.55,"w":-0.475,"t":12.3},{"b":1.55,"w":-0.525,"t":12.6},{"b":1.55,"w":-0.575,"t":12.9},{"b":1.55,"w":-0.625,"t":13.3},{"b":1.55,"w":-0.675,"t":13.6},{"b":1.55,"w":-0.725,"t":13.9},{"b":1.55,"w":-0.775,"t":14.2},{"b":1.55,"w":-0.825,"t":14.5},{"b":1.55,"w":-0.875,"t":14.8},{"b":1.55,"w":-0.925,"t":15.2},{"b":1.55,"w":-0.975,"t":15.5},{"b":1.55,"w":-1.025,"t":15.8},{"b":1.55,"w":-1.075,"t":16.1},{"b":1.55,"w":-1.125,"t":16.4},{"b":1.55,"w":-1.175,"t":16.7},{"b":1.55,"w":-1.225,"t":17.1},{"b":1.55,"w":-1.275,"t":17.4},{"b":1.55,"w":-1.325,"t":17.7},{"b":1.55,"w":-1.375,"t":18.0},{"b":1.55,"w":-1.425,"t":18.3},{"b":1.55,"w":-1.475,"t":18.6},{"b":1.55,"w":-1.525,"t":19.0},{"b":1.55,"w":-1.575,"t":19.3},{"b":1.55,"w":-1.625,"t":19.6},{"b":1.55,"w":-1.675,"t":19.9},{"b":1.55,"w":-1.725,"t":20.2},{"b":1.55,"w":-1.775,"t":20.5},{"b":1.55,"w":-1.825,"t":20.9},{"b":1.55,"w":-1.875,"t":21.2},{"b":1.55,"w":-1.925,"t":21.5},{"b":1.55,"w":-1.975,"t":21.8},
{"b":1.65,"w":-0.025,"t":9.5},{"b":1.65,"w":-0.075,"t":9.8},{"b":1.65,"w":-0.125,"t":10.1},{"b":1.65,"w":-0.175,"t":10.4},{"b":1.65,"w":-0.225,"t":10.8},{"b":1.65,"w":-0.275,"t":11.1},{"b":1.65,"w":-0.325,"t":11.4},{"b":1.65,"w":-0.375,"t":11.7},{"b":1.65,"w":-0.425,"t":12.0},{"b":1.65,"w":-0.475,"t":12.4},{"b":1.65,"w":-0.525,"t":12.7},{"b":1.65,"w":-0.575,"t":13.0},{"b":1.65,"w":-0.625,"t":13.3},{"b":1.65,"w":-0.675,"t":13.7},{"b":1.65,"w":-0.725,"t":14.0},{"b":1.65,"w":-0.775,"t":14.3},{"b":1.65,"w":-0.825,"t":14.6},{"b":1.65,"w":-0.875,"t":14.9},{"b":1.65,"w":-0.925,"t":15.3},{"b":1.65,"w":-0.975,"t":15.6},{"b":1.65,"w":-1.025,"t":15.9},{"b":1.65,"w":-1.075,"t":16.2},{"b":1.65,"w":-1.125,"t":16.6},{"b":1.65,"w":-1.175,"t":16.9},{"b":1.65,"w":-1.225,"t":17.2},{"b":1.65,"w":-1.275,"t":17.5},{"b":1.65,"w":-1.325,"t":17.8},{"b":1.65,"w":-1.375,"t":18.2},{"b":1.65,"w":-1.425,"t":18.5},{"b":1.65,"w":-1.475,"t":18.8},{"b":1.65,"w":-1.525,"t":19.1},{"b":1.65,"w":-1.575,"t":19.5},{"b":1.65,"w":-1.625,"t":19.8},{"b":1.65,"w":-1.675,"t":20.1},{"b":1.65,"w":-1.725,"t":20.4},{"b":1.65,"w":-1.775,"t":20.7},{"b":1.65,"w":-1.825,"t":21.1},{"b":1.65,"w":-1.875,"t":21.4},{"b":1.65,"w":-1.925,"t":21.7},{"b":1.65,"w":-1.975,"t":22.0},
{"b":1.75,"w":-0.025,"t":9.5},{"b":1.75,"w":-0.075,"t":9.8},{"b":1.75,"w":-0.125,"t":10.1},{"b":1.75,"w":-0.175,"t":10.5},{"b":1.75,"w":-0.225,"t":10.8},{"b":1.75,"w":-0.275,"t":11.1},{"b":1.75,"w":-0.325,"t":11.4},{"b":1.75,"w":-0.375,"t":11.8},{"b":1.75,"w":-0.425,"t":12.1},{"b":1.75,"w":-0.475,"t":12.4},{"b":1.75,"w":-0.525,"t":12.7},{"b":1.75,"w":-0.575,"t":13.1},{"b":1.75,"w":-0.625,"t":13.4},{"b":1.75,"w":-0.675,"t":13.7},{"b":1.75,"w":-0.725,"t":14.1},{"b":1.75,"w":-0.775,"t":14.4},{"b":1.75,"w":-0.825,"t":14.7},{"b":1.75,"w":-0.875,"t":15.0},{"b":1.75,"w":-0.925,"t":15.4},{"b":1.75,"w":-0.975,"t":15.7},{"b":1.75,"w":-1.025,"t":16.0},{"b":1.75,"w":-1.075,"t":16.3},{"b":1.75,"w":-1.125,"t":16.7},{"b":1.75,"w":-1.175,"t":17.0},{"b":1.75,"w":-1.225,"t":17.3},{"b":1.75,"w":-1.275,"t":17.7},{"b":1.75,"w":-1.325,"t":18.0},{"b":1.75,"w":-1.375,"t":18.3},{"b":1.75,"w":-1.425,"t":18.6},{"b":1.75,"w":-1.475,"t":19.0},{"b":1.75,"w":-1.525,"t":19.3},{"b":1.75,"w":-1.575,"t":19.6},{"b":1.75,"w":-1.625,"t":19.9},{"b":1.75,"w":-1.675,"t":20.3},{"b":1.75,"w":-1.725,"t":20.6},{"b":1.75,"w":-1.775,"t":20.9},{"b":1.75,"w":-1.825,"t":21.3},{"b":1.75,"w":-1.875,"t":21.6},{"b":1.75,"w":-1.925,"t":21.9},{"b":1.75,"w":-1.975,"t":22.2},
{"b":1.85,"w":-0.025,"t":9.5},{"b":1.85,"w":-0.075,"t":9.8},{"b":1.85,"w":-0.125,"t":10.1},{"b":1.85,"w":-0.175,"t":10.5},{"b":1.85,"w":-0.225,"t":10.8},{"b":1.85,"w":-0.275,"t":11.1},{"b":1.85,"w":-0.325,"t":11.5},{"b":1.85,"w":-0.375,"t":11.8},{"b":1.85,"w":-0.425,"t":12.1},{"b":1.85,"w":-0.475,"t":12.5},{"b":1.85,"w":-0.525,"t":12.8},{"b":1.85,"w":-0.575,"t":13.1},{"b":1.85,"w":-0.625,"t":13.5},{"b":1.85,"w":-0.675,"t":13.8},{"b":1.85,"w":-0.725,"t":14.1},{"b":1.85,"w":-0.775,"t":14.5},{"b":1.85,"w":-0.825,"t":14.8},{"b":1.85,"w":-0.875,"t":15.1},{"b":1.85,"w":-0.925,"t":15.5},{"b":1.85,"w":-0.975,"t":15.8},{"b":1.85,"w":-1.025,"t":16.1},{"b":1.85,"w":-1.075,"t":16.5},{"b":1.85,"w":-1.125,"t":16.8},{"b":1.85,"w":-1.175,"t":17.1},{"b":1.85,"w":-1.225,"t":17.4},{"b":1.85,"w":-1.275,"t":17.8},{"b":1.85,"w":-1.325,"t":18.1},{"b":1.85,"w":-1.375,"t":18.4},{"b":1.85,"w":-1.425,"t":18.8},{"b":1.85,"w":-1.475,"t":19.1},{"b":1.85,"w":-1.525,"t":19.4},{"b":1.85,"w":-1.575,"t":19.8},{"b":1.85,"w":-1.625,"t":20.1},{"b":1.85,"w":-1.675,"t":20.4},{"b":1.85,"w":-1.725,"t":20.8},{"b":1.85,"w":-1.775,"t":21.1},{"b":1.85,"w":-1.825,"t":21.4},{"b":1.85,"w":-1.875,"t":21.8},{"b":1.85,"w":-1.925,"t":22.1},{"b":1.85,"w":-1.975,"t":22.4},
{"b":1.95,"w":-0.025,"t":9.5},{"b":1.95,"w":-0.075,"t":9.8},{"b":1.95,"w":-0.125,"t":10.2},{"b":1.95,"w":-0.175,"t":10.5},{"b":1.95,"w":-0.225,"t":10.8},{"b":1.95,"w":-0.275,"t":11.2},{"b":1.95,"w":-0.325,"t":11.5},{"b":1.95,"w":-0.375,"t":11.8},{"b":1.95,"w":-0.425,"t":12.2},{"b":1.95,"w":-0.475,"t":12.5},{"b":1.95,"w":-0.525,"t":12.8},{"b":1.95,"w":-0.575,"t":13.2},{"b":1.95,"w":-0.625,"t":13.5},{"b":1.95,"w":-0.675,"t":13.9},{"b":1.95,"w":-0.725,"t":14.2},{"b":1.95,"w":-0.775,"t":14.5},{"b":1.95,"w":-0.825,"t":14.9},{"b":1.95,"w":-0.875,"t":15.2},{"b":1.95,"w":-0.925,"t":15.5},{"b":1.95,"w":-0.975,"t":15.9},{"b":1.95,"w":-1.025,"t":16.2},{"b":1.95,"w":-1.075,"t":16.5},{"b":1.95,"w":-1.125,"t":16.9},{"b":1.95,"w":-1.175,"t":17.2},{"b":1.95,"w":-1.225,"t":17.6},{"b":1.95,"w":-1.275,"t":17.9},{"b":1.95,"w":-1.325,"t":18.2},{"b":1.95,"w":-1.375,"t":18.6},{"b":1.95,"w":-1.425,"t":18.9},{"b":1.95,"w":-1.475,"t":19.2},{"b":1.95,"w":-1.525,"t":19.6},{"b":1.95,"w":-1.575,"t":19.9},{"b":1.95,"w":-1.625,"t":20.2},{"b":1.95,"w":-1.675,"t":20.6},{"b":1.95,"w":-1.725,"t":20.9},{"b":1.95,"w":-1.775,"t":21.3},{"b":1.95,"w":-1.825,"t":21.6},{"b":1.95,"w":-1.875,"t":21.9},{"b":1.95,"w":-1.925,"t":22.3},{"b":1.95,"w":-1.975,"t":22.6}
 ],
 "contour": [
{"w":-2.0,"b":0.22},{"w":-1.9,"b":0.235},{"w":-1.8,"b":0.254},{"w":-1.7,"b":0.275},{"w":-1.6,"b":0.300},{"w":-1.5,"b":0.331},{"w":-1.4,"b":0.368},{"w":-1.3,"b":0.415},{"w":-1.2,"b":0.475},{"w":-1.1,"b":0.555},{"w":-1.0,"b":0.669},{"w":-0.95,"b":0.745},{"w":-0.9,"b":0.841},{"w":-0.85,"b":0.965},{"w":-0.8,"b":1.13},{"w":-0.75,"b":1.36},{"w":-0.72,"b":1.55},{"w":-0.7,"b":1.71},{"w":-0.68,"b":1.91},{"w":-0.668,"b":2.0}
 ]
},
"layer": [
 {
  "data": {"name": "fine"},
  "mark": {"type": "rect", "width": 6.8, "height": 6.7, "clip": true},
  "encoding": {
   "x": {"field": "w", "type": "quantitative", "scale": {"domain": [-2, 0], "nice": false, "zero": false},
         "axis": {"orient": "bottom", "values": [-2, -1.5, -1, -0.5, 0], "format": ".1f", "tickSize": -5, "labelPadding": 6, "labelFont": "Liberation Serif", "labelFontSize": 16, "title": "wz₀", "titleFont": "Liberation Serif", "titleFontStyle": "italic", "titlePadding": 6}},
   "y": {"field": "b", "type": "quantitative", "scale": {"domain": [0.1, 2.0], "nice": false, "zero": false},
         "axis": {"orient": "left", "values": [0.5, 1.0, 1.5, 2.0], "format": ".1f", "tickSize": -5, "labelPadding": 5, "labelFont": "Liberation Serif", "labelFontSize": 16, "title": "β", "titleFont": "Liberation Serif", "titleFontStyle": "italic", "titleFontSize": 17, "titlePadding": 12}},
   "color": {"field": "t", "type": "quantitative",
     "scale": {"domain": [9.31, 10.53, 10.80, 13.92, 14.19, 17.78, 18.12, 18.25, 21.17, 21.37, 22.86],
               "range": ["#800000", "#e80000", "#ff1300", "#ffec00", "#efff08", "#14ffe2", "#00e6f7", "#00dbff", "#0000ff", "#0000ff", "#000080"],
               "interpolate": "rgb", "clamp": true},
     "legend": {"orient": "right", "direction": "vertical", "offset": 16, "title": "Age (Gyr)", "values": [11, 13, 15, 17, 19, 21], "format": ".1f",
       "gradientLength": 236, "gradientThickness": 12, "gradientStrokeColor": "black", "gradientStrokeWidth": 1,
       "labelFont": "Liberation Serif", "labelFontSize": 16, "labelColor": "black", "labelOffset": 6,
       "titleFont": "Liberation Serif", "titleFontSize": 16, "titleFontWeight": "normal", "titleColor": "black",
       "titleOrient": "right", "titleAnchor": "middle", "titlePadding": 31,
       "encoding": {"title": {"angle": {"value": 270}}}}}
  }
 },
 {
  "data": {"name": "coarse"},
  "mark": {"type": "rect", "width": 6.8, "height": 12.9, "clip": true},
  "encoding": {
   "x": {"field": "w", "type": "quantitative", "axis": null},
   "y": {"field": "b", "type": "quantitative", "axis": null},
   "color": {"field": "t", "type": "quantitative"}
  }
 },
 {
  "data": {"name": "contour"},
  "mark": {"type": "line", "color": "black", "strokeWidth": 2, "clip": true},
  "encoding": {
   "x": {"field": "w", "type": "quantitative",
         "axis": {"orient": "bottom", "values": [-1.9,-1.8,-1.7,-1.6,-1.4,-1.3,-1.2,-1.1,-0.9,-0.8,-0.7,-0.6,-0.4,-0.3,-0.2,-0.1], "labels": false, "domain": false, "tickSize": -3, "title": null}},
   "y": {"field": "b", "type": "quantitative",
         "axis": {"orient": "left", "values": [0.2,0.3,0.4,0.6,0.7,0.8,0.9,1.1,1.2,1.3,1.4,1.6,1.7,1.8,1.9], "labels": false, "domain": false, "tickSize": -3, "title": null}}
  }
 },
 {
  "data": {"values": [{"w": -1.0, "b0": 0.1, "b1": 2.0}]},
  "mark": {"type": "rule", "color": "black", "strokeWidth": 1, "strokeDash": [4, 2]},
  "encoding": {
   "x": {"field": "w", "type": "quantitative",
         "axis": {"orient": "top", "values": [-2, -1.5, -1, -0.5, 0], "labels": false, "tickSize": -5, "title": null}},
   "y": {"field": "b0", "type": "quantitative",
         "axis": {"orient": "right", "values": [0.5, 1.0, 1.5, 2.0], "labels": false, "tickSize": -5, "title": null}},
   "y2": {"field": "b1"}
  }
 },
 {
  "data": {"values": [{"b": 0.67, "w0": -2.0, "w1": 0.0}]},
  "mark": {"type": "rule", "color": "black", "strokeWidth": 1, "strokeDash": [4, 2]},
  "encoding": {
   "y": {"field": "b", "type": "quantitative",
         "axis": {"orient": "right", "values": [0.2,0.3,0.4,0.6,0.7,0.8,0.9,1.1,1.2,1.3,1.4,1.6,1.7,1.8,1.9], "labels": false, "domain": false, "tickSize": -3, "title": null}},
   "x": {"field": "w0", "type": "quantitative",
         "axis": {"orient": "top", "values": [-1.9,-1.8,-1.7,-1.6,-1.4,-1.3,-1.2,-1.1,-0.9,-0.8,-0.7,-0.6,-0.4,-0.3,-0.2,-0.1], "labels": false, "domain": false, "tickSize": -3, "title": null}},
   "x2": {"field": "w1"}
  }
 }
],
"resolve": {"axis": {"x": "independent", "y": "independent"}}
}
